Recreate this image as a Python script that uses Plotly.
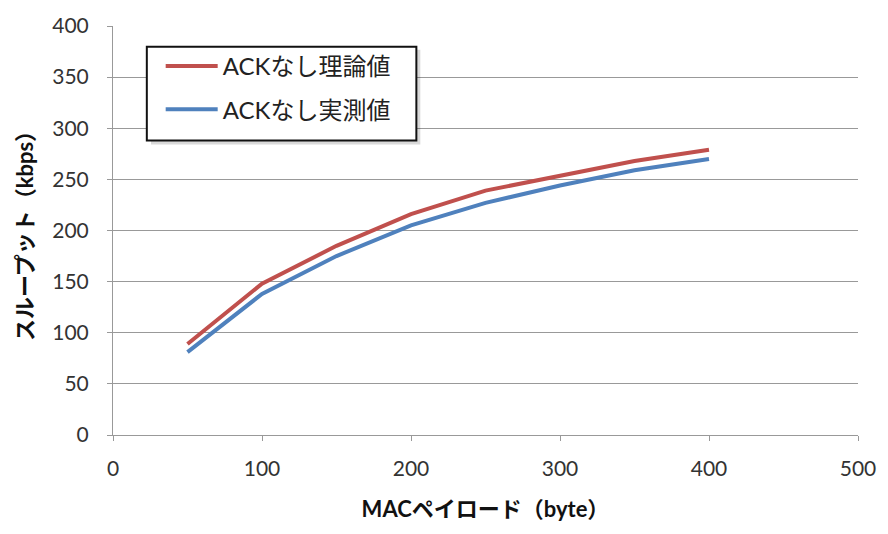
import plotly.graph_objects as go

# MAC payload size (byte)
payload = [50, 100, 150, 200, 250, 300, 350, 400]
# Throughput without ACK (kbps)
theory = [89, 148, 185, 216, 239, 254, 268, 279]
measured = [81, 138, 175, 205, 227, 244, 259, 270]

series_names = ["ACKなし理論値", "ACKなし実測値"]
series_colors = ["#C0504D", "#4F81BD"]

x_ticks = [0, 100, 200, 300, 400, 500]
y_ticks = [0, 50, 100, 150, 200, 250, 300, 350, 400]

FONT = "Lato, 'Noto Sans CJK JP', sans-serif"
GRID = "#999999"

fig = go.Figure()
for name, vals, color in zip(series_names, [theory, measured], series_colors):
    fig.add_trace(go.Scatter(
        x=payload, y=vals, mode="lines", name=name,
        legendgroup=name,
        line=dict(color=color, width=4),
    ))

fig.update_layout(
    width=888, height=534,
    margin=dict(l=113, r=26, t=21, b=99),
    paper_bgcolor="white", plot_bgcolor="white",
    font=dict(family=FONT, size=21, color="#333"),
    showlegend=True,
    legend=dict(
        x=0.064, y=0.956, xanchor="left", yanchor="top",
        borderwidth=0, bgcolor="rgba(0,0,0,0)",
        font=dict(family=FONT, size=24, color="#222"),
        itemwidth=52, tracegroupgap=9,
    ),
)

# legend frame with a soft drop shadow
fig.add_shape(type="rect", xref="paper", yref="paper",
              x0=0.051, x1=0.4125, y0=0.710, y1=0.942,
              fillcolor="rgba(0,0,0,0.15)", line=dict(width=0), layer="above")
fig.add_shape(type="rect", xref="paper", yref="paper",
              x0=0.0454, x1=0.4072, y0=0.7198, y1=0.9493,
              fillcolor="white", line=dict(color="#111", width=2), layer="above")

fig.update_xaxes(
    range=[0, 500], tickvals=x_ticks, showgrid=False,
    showline=True, linecolor=GRID, linewidth=1,
    ticks="outside", ticklen=5, tickcolor=GRID, ticklabelstandoff=10,
    tickfont=dict(family=FONT, size=21, color="#333"),
    title=dict(text="<b>MACペイロード（byte）</b>", standoff=22,
               font=dict(family=FONT, size=22, color="#111")),
)
fig.update_yaxes(
    range=[0, 400], tickvals=y_ticks, showgrid=True,
    gridcolor=GRID, gridwidth=1,
    showline=True, linecolor=GRID, linewidth=1,
    ticks="outside", ticklen=5, tickcolor=GRID, ticklabelstandoff=14,
    tickfont=dict(family=FONT, size=21, color="#333"),
    title=dict(text="<b>スループット（kbps）</b>", standoff=12,
               font=dict(family=FONT, size=22, color="#111")),
)

fig.write_html("out.html")
